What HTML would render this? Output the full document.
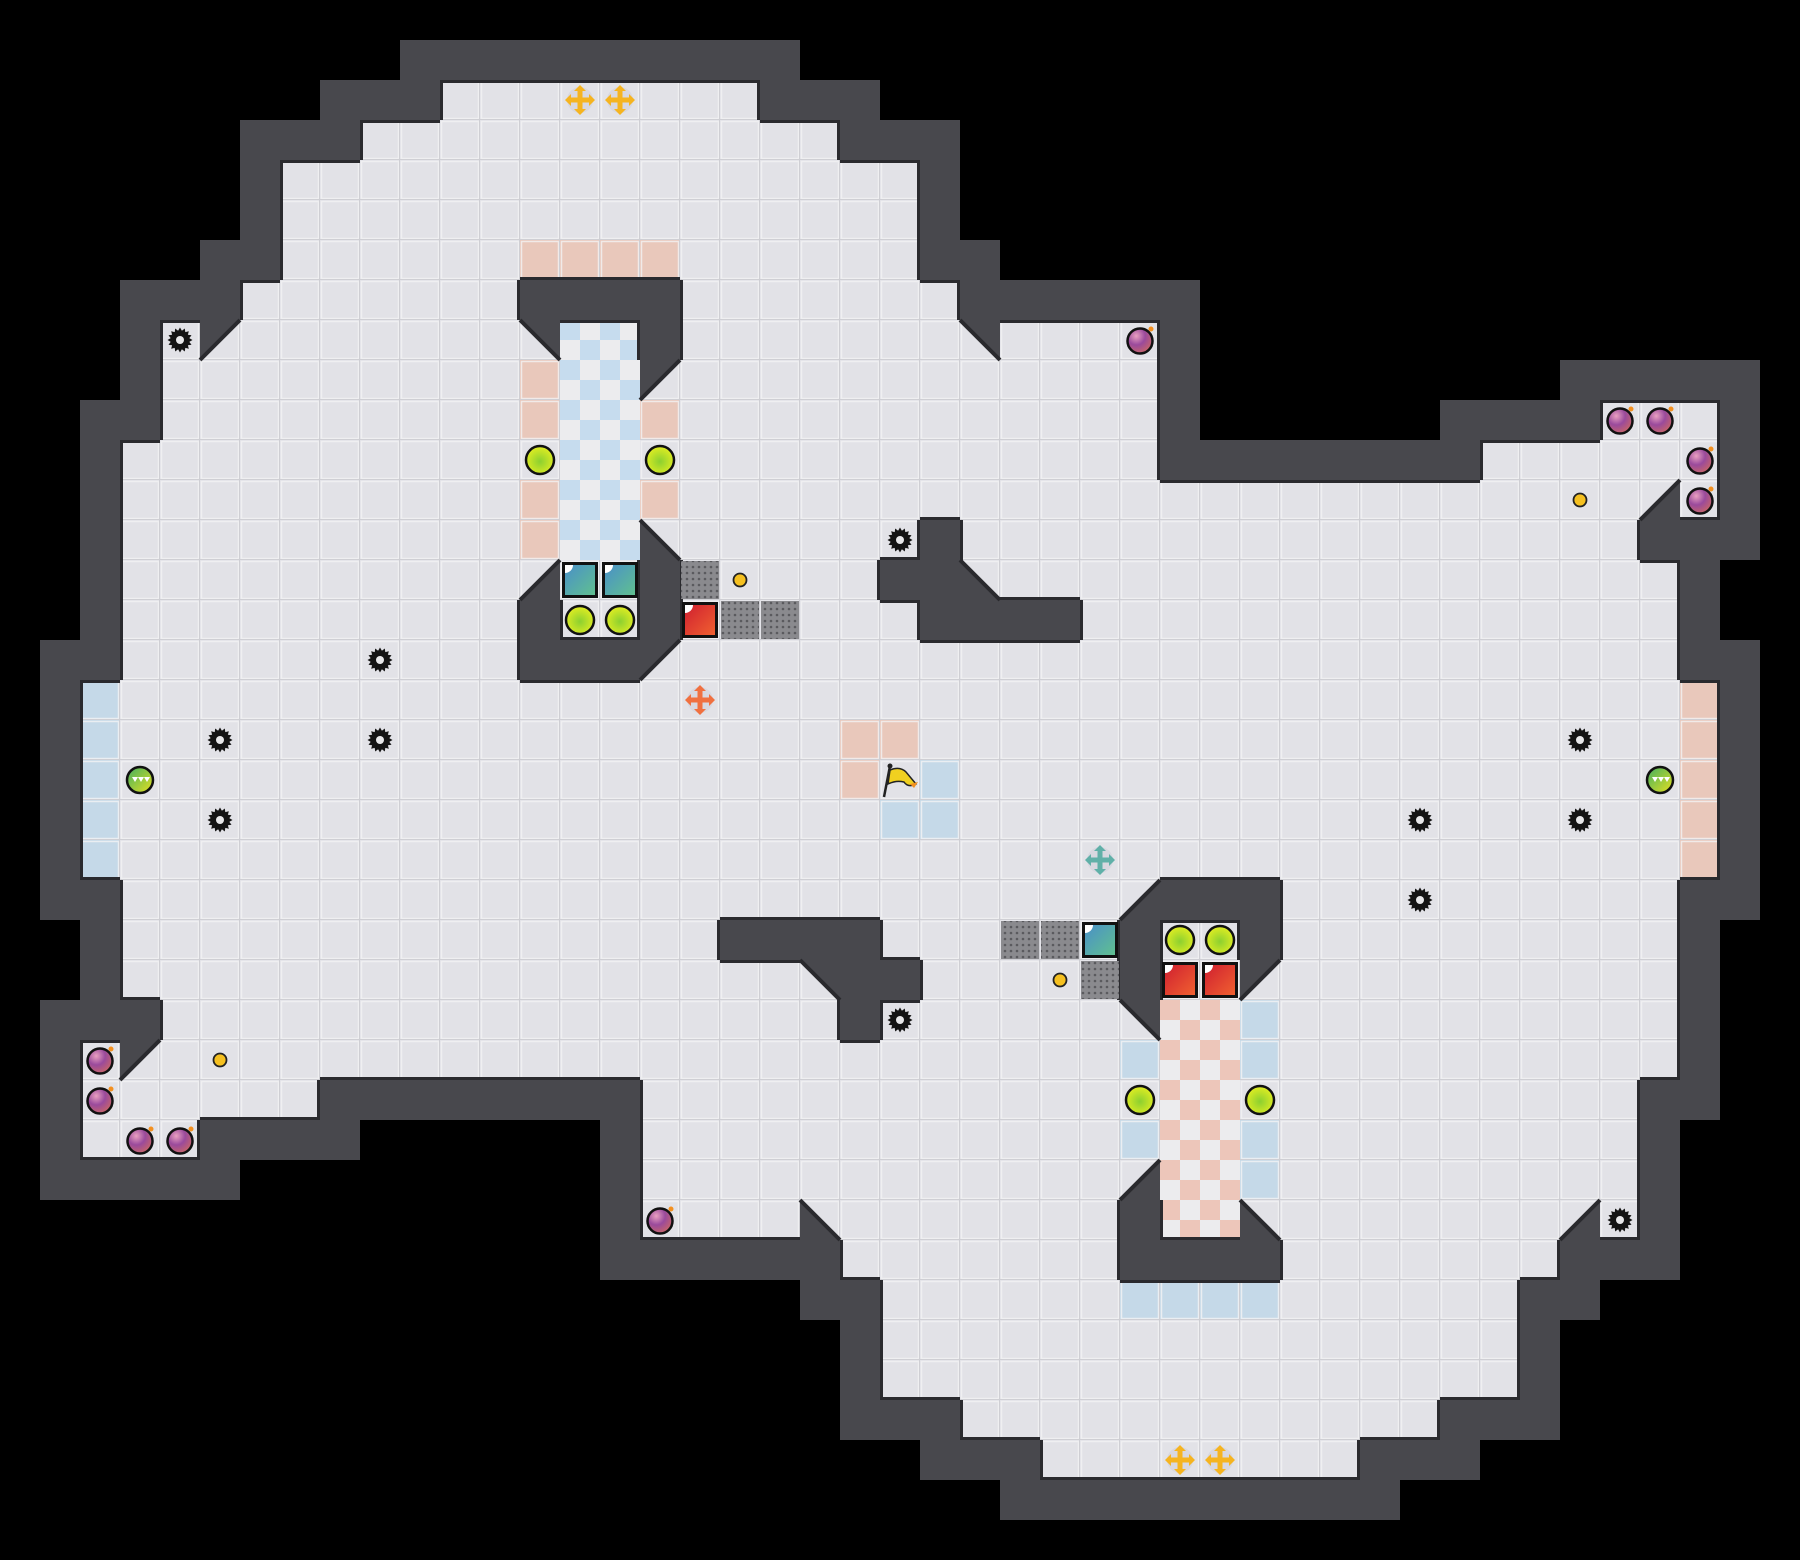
<!DOCTYPE html>
<html><head><meta charset="utf-8"><style>
html,body{margin:0;padding:0;background:#000;}
svg{display:block}
</style></head><body>
<svg id="s" width="1800" height="1560" viewBox="0 0 1800 1560" xmlns="http://www.w3.org/2000/svg">
<defs>
<radialGradient id="bomb" cx="0.35" cy="0.3" r="0.8"><stop offset="0" stop-color="#e9a0c0"/><stop offset="0.45" stop-color="#9a4a9c"/><stop offset="1" stop-color="#d06a60"/></radialGradient>
<radialGradient id="yel" cx="0.5" cy="0.55" r="0.6"><stop offset="0" stop-color="#8cd030"/><stop offset="1" stop-color="#eaf020"/></radialGradient>
<linearGradient id="teal" x1="0" y1="0" x2="1" y2="1"><stop offset="0" stop-color="#4a90c8"/><stop offset="1" stop-color="#60c090"/></linearGradient>
<linearGradient id="red" x1="0" y1="0" x2="1" y2="1"><stop offset="0" stop-color="#d02030"/><stop offset="1" stop-color="#f06030"/></linearGradient>
<linearGradient id="grn" x1="0" y1="0" x2="1" y2="1"><stop offset="0" stop-color="#40b060"/><stop offset="1" stop-color="#e8e020"/></linearGradient>
<pattern id="dots" width="6" height="6" patternUnits="userSpaceOnUse"><rect width="6" height="6" fill="#8a8a8e"/><circle cx="3" cy="3" r="1.3" fill="#5a5a5e"/></pattern>
</defs>
<rect width="1800" height="1560" fill="#000"/>
<g id="g"></g>
</svg>
<script>
var T=40,out=[];
var R={2:[[11,18]],3:[[9,20]],4:[[7,22]],5:[[7,22]],6:[[7,22]],7:[[6,23]],8:[[4,28]],9:[[4,28]],10:[[4,28],[40,42]],11:[[3,28],[37,42]],12:[[3,42]],13:[[3,40]],14:[[3,41]],15:[[3,41]],16:[[3,41]],17:[[2,42]],18:[[2,42]],19:[[2,42]],20:[[2,42]],21:[[2,42]],22:[[3,41]],23:[[3,41]],24:[[3,41]],25:[[4,41]],26:[[2,41]],27:[[2,7],[16,40]],28:[[2,4],[16,40]],29:[[16,40]],30:[[16,40]],31:[[21,38]],32:[[22,37]],33:[[22,37]],34:[[22,37]],35:[[24,35]],36:[[26,33]]};
var F={};function k(c,r){return c+','+r;}
for(var r in R){R[r].forEach(function(a){for(var c=a[0];c<=a[1];c++)F[k(c,+r)]=1;});}
var IW={},D={};
function w(c,r){IW[k(c,r)]=1;} function d(c,r,t){D[k(c,r)]=t;}
// top structure
[13,14,15,16].forEach(function(c){w(c,7);});w(16,8);d(13,8,'tr');d(16,9,'tl');d(16,13,'bl');w(16,14);w(16,15);d(16,16,'tl');d(13,14,'br');w(13,15);w(13,16);w(14,16);w(15,16);
// bottom structure
[28,29,30,31].forEach(function(c){w(c,31);});w(28,30);d(31,30,'bl');d(28,29,'br');d(28,25,'tr');w(28,24);w(28,23);d(28,22,'br');d(31,24,'tl');w(31,23);w(31,22);w(30,22);w(29,22);
// mid
w(23,13);w(22,14);w(23,14);d(24,14,'bl');[23,24,25,26].forEach(function(c){w(c,15);});
w(21,25);w(22,24);w(21,24);d(20,24,'tr');[18,19,20,21].forEach(function(c){w(c,23);});
// outer diagonals
d(5,8,'tl');d(24,8,'tr');d(41,12,'br');d(3,26,'tl');d(20,30,'bl');d(39,30,'br');
var WC='#48484d',EC='#2a2a2e';
// outer walls
var SOL={};
for(var r=0;r<39;r++)for(var c=0;c<45;c++){var key=k(c,r);if(F[key])continue;var adj=false;for(var dy=-1;dy<=1;dy++)for(var dx=-1;dx<=1;dx++)if(F[k(c+dx,r+dy)])adj=true;if(adj){SOL[key]=1;out.push('<rect x="'+c*T+'" y="'+r*T+'" width="40" height="40" fill="'+WC+'"/>');}}
for(var key in IW)SOL[key]=1;
// floor tiles
var pink={},blue={};
function P(c,r){pink[k(c,r)]=1;}function B(c,r){blue[k(c,r)]=1;}
[13,14,15,16].forEach(function(c){P(c,6);});[9,10,12,13].forEach(function(r){P(13,r);});P(16,10);P(16,12);P(21,18);P(22,18);P(21,19);for(var r=17;r<=21;r++){P(42,r);B(2,r);}
B(23,19);B(22,20);B(23,20);B(28,26);B(28,28);[25,26,28,29].forEach(function(r){B(31,r);});[28,29,30,31].forEach(function(c){B(c,32);});
for(var key in F){var p=key.split(','),c=+p[0],r=+p[1],x=c*T,y=r*T;
 var col=pink[key]?'#e9c8bb':blue[key]?'#c5d9e8':'#e2e2e7';
 out.push('<rect x="'+x+'" y="'+y+'" width="40" height="40" fill="'+col+'"/>');
 out.push('<rect x="'+(x+1.5)+'" y="'+(y+1.5)+'" width="37" height="37" fill="none" stroke="#f2f2f4" stroke-width="1.5" opacity="0.8"/>');
 out.push('<path d="M'+x+' '+(y+39.5)+'H'+(x+40)+'M'+(x+39.5)+' '+y+'V'+(y+40)+'" stroke="#cfcfd4" stroke-width="1"/>');
}
function checker(c0,c1,r0,r1,cl){for(var r=r0;r<=r1;r++)for(var c=c0;c<=c1;c++){var x=c*T,y=r*T;out.push('<rect x="'+x+'" y="'+y+'" width="40" height="40" fill="#ececee"/>');out.push('<rect x="'+x+'" y="'+y+'" width="20" height="20" fill="'+cl+'"/><rect x="'+(x+20)+'" y="'+(y+20)+'" width="20" height="20" fill="'+cl+'"/>');}}
checker(14,15,8,13,'#c6dcee');checker(29,30,25,30,'#edc6ba');
// interior walls
for(var key in IW){var p=key.split(',');out.push('<rect x="'+p[0]*T+'" y="'+p[1]*T+'" width="40" height="40" fill="'+WC+'"/>');}
// edges
for(var key in F){if(SOL[key])continue;var p=key.split(','),c=+p[0],r=+p[1],x=c*T,y=r*T;
 if(SOL[k(c,r-1)])out.push('<rect x="'+x+'" y="'+y+'" width="40" height="3" fill="'+EC+'"/>');
 if(SOL[k(c,r+1)])out.push('<rect x="'+x+'" y="'+(y+37)+'" width="40" height="3" fill="'+EC+'"/>');
 if(SOL[k(c-1,r)])out.push('<rect x="'+x+'" y="'+y+'" width="3" height="40" fill="'+EC+'"/>');
 if(SOL[k(c+1,r)])out.push('<rect x="'+(x+37)+'" y="'+y+'" width="3" height="40" fill="'+EC+'"/>');}
// diagonals
for(var key in D){var p=key.split(','),x=p[0]*T,y=p[1]*T,t=D[key],pts,ln;
 if(t=='tl'){pts=[[x,y],[x+40,y],[x,y+40]];ln=[[x+40,y],[x,y+40]];}
 if(t=='tr'){pts=[[x,y],[x+40,y],[x+40,y+40]];ln=[[x,y],[x+40,y+40]];}
 if(t=='bl'){pts=[[x,y],[x,y+40],[x+40,y+40]];ln=[[x,y],[x+40,y+40]];}
 if(t=='br'){pts=[[x+40,y],[x+40,y+40],[x,y+40]];ln=[[x+40,y],[x,y+40]];}
 out.push('<polygon points="'+pts.join(' ')+'" fill="'+WC+'"/>');
 out.push('<line x1="'+ln[0][0]+'" y1="'+ln[0][1]+'" x2="'+ln[1][0]+'" y2="'+ln[1][1]+'" stroke="'+EC+'" stroke-width="4"/>');}
function cx(c){return c*T+20;}
// items
function gear(c,r){var x=cx(c),y=cx(r),s='';for(var i=0;i<32;i++){var a=i*Math.PI/16,rr=i%2?9.5:12.5;s+=(x+rr*Math.cos(a)).toFixed(1)+','+(y+rr*Math.sin(a)).toFixed(1)+' ';}out.push('<polygon points="'+s+'" fill="#141414"/><circle cx="'+x+'" cy="'+y+'" r="4" fill="#e8e8ea"/>');}
[[4,8],[22,13],[9,16],[5,18],[9,18],[5,20],[39,18],[35,20],[39,20],[35,22],[22,25],[40,30]].forEach(function(a){gear(a[0],a[1]);});
function bomb(c,r){var x=cx(c),y=cx(r);out.push('<circle cx="'+x+'" cy="'+(y+1)+'" r="12.5" fill="url(#bomb)" stroke="#111" stroke-width="2.5"/><circle cx="'+(x+11)+'" cy="'+(y-11)+'" r="2.5" fill="#f39020"/>');}
[[28,8],[40,10],[41,10],[42,11],[42,12],[2,26],[2,27],[3,28],[4,28],[16,30]].forEach(function(a){bomb(a[0],a[1]);});
function coin(c,r){out.push('<circle cx="'+cx(c)+'" cy="'+cx(r)+'" r="6.5" fill="#f5c020" stroke="#222" stroke-width="1.8"/>');}
[[18,14],[39,12],[5,26],[26,24]].forEach(function(a){coin(a[0],a[1]);});
function yc(c,r){out.push('<circle cx="'+cx(c)+'" cy="'+cx(r)+'" r="14" fill="url(#yel)" stroke="#111" stroke-width="2.5"/>');}
[[13,11],[16,11],[14,15],[15,15],[29,23],[30,23],[28,27],[31,27]].forEach(function(a){yc(a[0],a[1]);});
function sq(c,r,f){var x=c*T,y=r*T;out.push('<rect x="'+(x+2)+'" y="'+(y+2)+'" width="36" height="36" fill="#111"/><rect x="'+(x+5)+'" y="'+(y+5)+'" width="30" height="30" fill="'+f+'"/><path d="M'+(x+5)+' '+(y+5)+'h8a8 8 0 0 1-8 8z" fill="#fff"/>');}
[[14,14],[15,14],[27,23]].forEach(function(a){sq(a[0],a[1],'url(#teal)');});
[[17,15],[29,24],[30,24]].forEach(function(a){sq(a[0],a[1],'url(#red)');});
[[17,14],[18,15],[19,15],[25,23],[26,23],[27,24]].forEach(function(a){out.push('<rect x="'+(a[0]*T+1)+'" y="'+(a[1]*T+1)+'" width="38" height="38" fill="url(#dots)"/>');});
function plus(c,r,col){var x=cx(c),y=cx(r);out.push('<circle cx="'+x+'" cy="'+y+'" r="13" fill="#d6d6de" opacity="0.8"/><path d="M'+(x-12)+' '+y+'H'+(x+12)+'M'+x+' '+(y-12)+'V'+(y+12)+'" stroke="'+col+'" stroke-width="5"/>'+
'<path d="M'+(x-15)+' '+y+'l6-6v12zM'+(x+15)+' '+y+'l-6-6v12zM'+x+' '+(y-15)+'l-6 6h12zM'+x+' '+(y+15)+'l-6-6h12z" fill="'+col+'"/>');}
plus(14,2,'#f5b420');plus(15,2,'#f5b420');plus(29,36,'#f5b420');plus(30,36,'#f5b420');plus(17,17,'#f07040');plus(27,21,'#60b0a8');
function gs(c,r){var x=cx(c),y=cx(r);out.push('<circle cx="'+x+'" cy="'+y+'" r="13" fill="url(#grn)" stroke="#111" stroke-width="2.5"/><path d="M'+(x-8)+' '+(y-3)+'l3 5 3-5zM'+(x-2)+' '+(y-3)+'l3 5 3-5zM'+(x+4)+' '+(y-3)+'l3 5 3-5z" fill="#fff"/>');}
gs(3,19);gs(41,19);
var fx=22*T,fy=19*T;
out.push('<path d="M'+(fx+4)+' '+(fy+37)+'L'+(fx+10)+' '+(fy+6)+'" stroke="#222" stroke-width="2.5"/><circle cx="'+(fx+10)+'" cy="'+(fy+6)+'" r="2.5" fill="#222"/><path d="M'+(fx+10)+' '+(fy+10)+'q10-4 16 2l10 12q-8 4-12-2q-8-2-16 2z" fill="#f0d020" stroke="#222" stroke-width="1.5"/><path d="M'+(fx+30)+' '+(fy+24)+'l8-2-4 6z" fill="#f09020"/>');
document.getElementById('g').innerHTML=out.join('');
</script>
</body></html>
